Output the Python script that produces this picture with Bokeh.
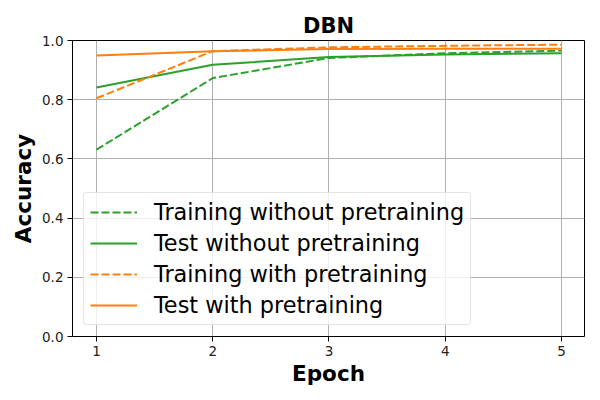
from bokeh.plotting import figure
from bokeh.models import Range1d, FixedTicker, Legend, LegendItem, PrintfTickFormatter
from bokeh.embed import file_html
from bokeh.resources import INLINE

epochs = [1, 2, 3, 4, 5]
train_no_pre = [0.631, 0.873, 0.941, 0.957, 0.966]
test_no_pre = [0.841, 0.918, 0.944, 0.953, 0.957]
train_pre = [0.805, 0.964, 0.977, 0.982, 0.986]
test_pre = [0.949, 0.964, 0.971, 0.972, 0.972]

GREEN = "#2ca02c"
ORANGE = "#ff7f0e"
FONT = "DejaVu Sans"

p = figure(width=600, height=400, output_backend="svg", toolbar_location=None,
           x_range=Range1d(0.794, 5.198), y_range=Range1d(0, 1),
           min_border_left=72, min_border_right=16, min_border_top=40, min_border_bottom=64,
           title="DBN")
p.title.align = "center"
p.title.text_font = FONT
p.title.text_font_size = "21px"
p.title.text_font_style = "bold"
p.title.text_color = "black"
p.title.standoff = 6

p.outline_line_color = "black"
p.outline_line_width = 1
p.background_fill_color = "white"
p.border_fill_color = "white"

for ax in (p.xaxis[0], p.yaxis[0]):
    ax.axis_line_color = None
    ax.major_tick_line_color = "black"
    ax.major_tick_out = 5
    ax.major_tick_in = 0
    ax.minor_tick_line_color = None
    ax.major_label_text_font = FONT
    ax.major_label_text_font_size = "13.5px"
    ax.major_label_text_color = "#222222"
    ax.axis_label_text_font = FONT
    ax.axis_label_text_font_size = "21.5px"
    ax.axis_label_text_font_style = "bold"
    ax.axis_label_text_color = "black"

p.xaxis.ticker = FixedTicker(ticks=epochs)
p.yaxis.ticker = FixedTicker(ticks=[0, 0.2, 0.4, 0.6, 0.8, 1.0])
p.yaxis.formatter = PrintfTickFormatter(format="%.1f")
p.xaxis.axis_label = "Epoch"
p.yaxis.axis_label = "Accuracy"
p.xaxis.major_label_standoff = 4
p.yaxis.major_label_standoff = 4
p.xaxis.axis_label_standoff = 2
p.yaxis.axis_label_standoff = 3

p.grid.grid_line_color = "#b0b0b0"
p.grid.grid_line_width = 1
p.grid.grid_line_alpha = 1

r1 = p.line(epochs, train_no_pre, color=GREEN, line_width=2, line_dash="8 3")
r2 = p.line(epochs, test_no_pre, color=GREEN, line_width=2)
r3 = p.line(epochs, train_pre, color=ORANGE, line_width=2, line_dash="8 3")
r4 = p.line(epochs, test_pre, color=ORANGE, line_width=2)

legend = Legend(items=[
    LegendItem(label="Training without pretraining", renderers=[r1]),
    LegendItem(label="Test without pretraining", renderers=[r2]),
    LegendItem(label="Training with pretraining", renderers=[r3]),
    LegendItem(label="Test with pretraining", renderers=[r4]),
], location=(11, 11))
legend.label_text_font = FONT
legend.label_text_font_size = "22.4px"
legend.label_text_color = "black"
legend.glyph_width = 47
legend.glyph_height = 26
legend.label_height = 26
legend.spacing = 5
legend.padding = 6
legend.margin = 0
legend.label_standoff = 17
legend.border_line_color = "#cccccc"
legend.border_line_width = 1
legend.border_radius = 4
legend.background_fill_color = "white"
legend.background_fill_alpha = 0.8
p.add_layout(legend, "center")

open("out.html", "w").write(file_html(p, INLINE))
